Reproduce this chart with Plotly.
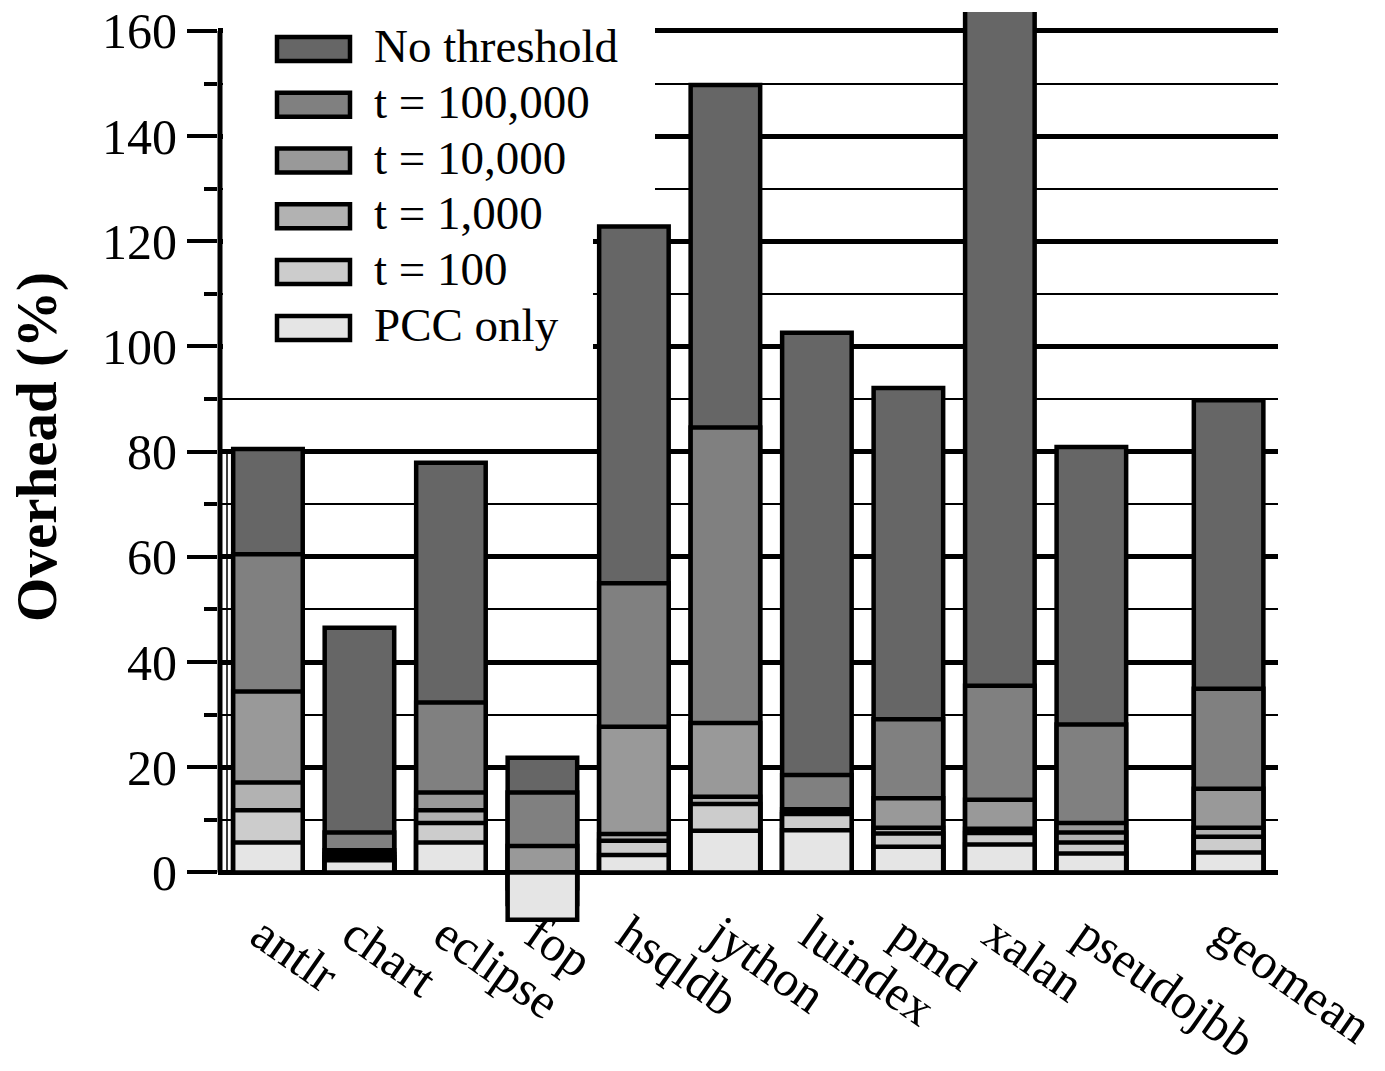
import plotly.graph_objects as go

# ---------------- data ----------------
benchmarks = ["antlr", "chart", "eclipse", "fop", "hsqldb", "jython",
              "luindex", "pmd", "xalan", "pseudojbb", "geomean"]
# slot positions along the x axis (geomean is set apart by an extra half slot)
slots = [0, 1, 2, 3, 4, 5, 6, 7, 8, 9, 10.5]

series_names = ["No threshold", "t = 100,000", "t = 10,000",
                "t = 1,000", "t = 100", "PCC only"]

no_threshold = [80.5, 46.5, 77.9, 21.8, 122.8, 149.7, 102.6, 92.1, 170.0, 80.9, 89.8]
t_100000     = [60.5,  7.6, 32.3, 15.2,  55.0,  84.6,  18.5, 29.1,  35.5, 28.1, 34.9]
t_10000      = [34.4,  4.2, 15.2,  5.0,  27.7,  28.4,  12.0, 14.1,  13.8,  9.4, 15.9]
t_1000       = [17.1,  3.5, 11.8, -3.0,   7.3,  14.4,  11.5,  8.5,   8.3,  7.6,  8.5]
t_100        = [11.8,  2.9,  9.4, -6.0,   6.0,  13.0,  11.1,  7.4,   7.5,  5.7,  6.8]
pcc_only     = [ 5.7,  2.3,  5.7, -9.0,   3.3,   7.9,   8.0,  4.9,   5.3,  3.6,  3.8]

series_values = [no_threshold, t_100000, t_10000, t_1000, t_100, pcc_only]
series_colors = ["#666666", "#808080", "#999999", "#b2b2b2", "#cccccc", "#e5e5e5"]

y_ticks = [0, 20, 40, 60, 80, 100, 120, 140, 160]
y_minor = [10, 30, 50, 70, 90, 110, 130, 150]

# ---------------- layout geometry ----------------
W, H = 1385, 1071
PLOT_L, PLOT_R = 218, 1278   # target window pixels
PLOT_T, PLOT_B = 12.1, 925.1
ML = PLOT_L
MR = W - PLOT_R
MT = PLOT_T
MB = H - PLOT_B
PW, PH = PLOT_R - PLOT_L, PLOT_B - PLOT_T
FONT = "Liberation Serif"


def px_x(p):
    return (p - PLOT_L) / PW


def px_y(p):
    return (PLOT_B - p) / PH


fig = go.Figure()
for name, vals, col in zip(series_names, series_values, series_colors):
    fig.add_trace(go.Bar(
        x=slots, y=vals, name=name, width=0.76,
        marker=dict(color=col, line=dict(color="black", width=4.5)),
        showlegend=False,
    ))

shapes = []
annotations = []

# white legend background (covers grid lines, leaves the hsqldb bar free)
shapes.append(dict(type="rect", xref="paper", yref="paper",
                   x0=px_x(223), x1=px_x(655), y0=px_y(222), y1=1.02,
                   fillcolor="white", line=dict(width=0), layer="above"))
shapes.append(dict(type="rect", xref="paper", yref="paper",
                   x0=px_x(223), x1=px_x(593), y0=px_y(368), y1=px_y(220),
                   fillcolor="white", line=dict(width=0), layer="above"))

# y axis line from 0 to 160
shapes.append(dict(type="line", xref="paper", yref="y",
                   x0=px_x(220), x1=px_x(220), y0=0, y1=160,
                   line=dict(color="black", width=5), layer="above"))
# thin rule beside the axis up to the first bar's height
shapes.append(dict(type="line", xref="paper", yref="y",
                   x0=px_x(227), x1=px_x(227), y0=0, y1=no_threshold[0],
                   line=dict(color="black", width=1.5), layer="below"))

# custom legend
row0, step = 49, 55.8
for i, (name, col) in enumerate(zip(series_names, series_colors)):
    yc = row0 + step * i
    shapes.append(dict(type="rect", xref="paper", yref="paper",
                       x0=px_x(277), x1=px_x(350),
                       y0=px_y(yc + 12), y1=px_y(yc - 12),
                       fillcolor=col, line=dict(color="black", width=4.5),
                       layer="above"))
    annotations.append(dict(text=name, xref="paper", yref="paper",
                            x=px_x(372), y=px_y(yc - 3), xanchor="left",
                            yanchor="middle", showarrow=False,
                            font=dict(family=FONT, size=47, color="black")))

# y axis title
annotations.append(dict(text="<b>Overhead (%)</b>", xref="paper", yref="paper",
                        x=px_x(37), y=px_y(447), xanchor="center",
                        yanchor="middle", textangle=-90, showarrow=False,
                        font=dict(family=FONT, size=57, color="black")))

fig.update_layout(
    width=W, height=H, autosize=False,
    margin=dict(l=ML, r=MR, t=MT, b=MB, pad=0),
    paper_bgcolor="white", plot_bgcolor="white",
    barmode="overlay",
    showlegend=False,
    shapes=shapes, annotations=annotations,
    font=dict(family=FONT, size=47, color="black"),
    xaxis=dict(
        range=[-0.546, 11.04], showgrid=False, zeroline=False,
        showline=False, ticks="",
        tickmode="array", tickvals=slots, ticktext=benchmarks,
        tickangle=35, tickfont=dict(family=FONT, size=50, color="black"),
        ticklabelstandoff=-30, ticklabelshift=-6,
        ticklabeloverflow="allow",
        automargin=False,
    ),
    yaxis=dict(
        range=[-10, 163.6], zeroline=False, showline=False,
        tickmode="array", tickvals=y_ticks,
        ticks="outside", ticklen=30, tickwidth=4, tickcolor="black",
        showgrid=True, gridcolor="black", gridwidth=5,
        tickfont=dict(family=FONT, size=50, color="black"),
        ticklabeloverflow="allow",
        minor=dict(tickmode="array", tickvals=y_minor, ticks="outside",
                   ticklen=13, tickwidth=4, tickcolor="black",
                   showgrid=True, gridcolor="black", gridwidth=1.6),
        automargin=False,
    ),
)

fig.write_html("out.html",
               config={"displayModeBar": False},
               post_script="document.body.style.margin='0';"
                           "document.body.style.overflow='hidden';")
